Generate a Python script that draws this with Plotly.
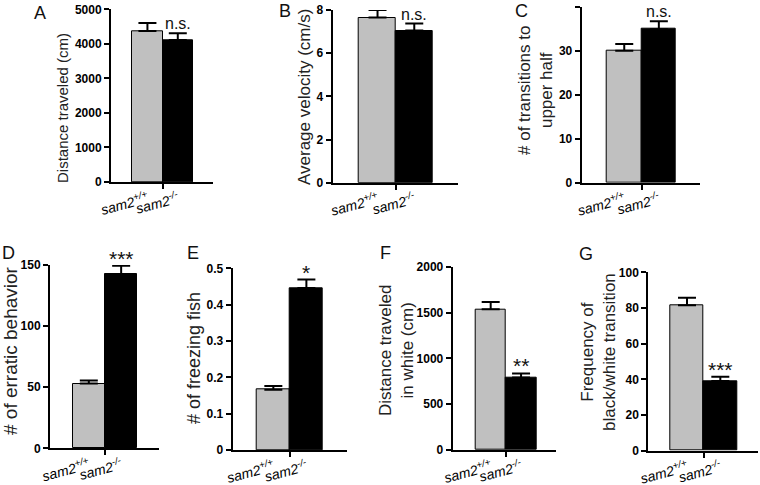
import plotly.graph_objects as go

groups = ["<i>sam2<sup>+/+</sup></i>", "<i>sam2<sup>-/-</sup></i>"]
bar_colors = ["#c0c0c0", "#000000"]

a_means = [4370, 4110]; a_errs = [230, 195]
b_means = [7.65, 7.05]; b_errs = [0.35, 0.32]
c_means = [30.0, 34.9]; c_errs = [1.5, 1.8]
d_means = [53.0, 142.3]; d_errs = [2.5, 7.0]
e_means = [0.166, 0.446]; e_errs = [0.010, 0.023]
f_means = [1536, 792]; f_errs = [80, 44]
g_means = [81.5, 39.0]; g_errs = [4.2, 2.4]

letters = ["A", "B", "C", "D", "E", "F", "G"]
y_titles = ["Distance traveled (cm)", "Average velocity (cm/s)",
            "# of transitions to<br>upper half", "# of erratic behavior",
            "# of freezing fish", "Distance traveled<br>in white (cm)",
            "Frequency of<br>black/white transition"]
y_max = [5000, 8, 40, 150, 0.5, 2000, 100]
y_dtick = [1000, 2, 10, 50, 0.1, 500, 20]
sig = ["n.s.", "n.s.", "n.s.", "***", "*", "**", "***"]
means = [a_means, b_means, c_means, d_means, e_means, f_means, g_means]
errs = [a_errs, b_errs, c_errs, d_errs, e_errs, f_errs, g_errs]

W, H = 760, 485
# pixel boxes: (x_left, x_right, y_top, y_bottom)
boxes = [(111, 213, 9.3, 182), (332.7, 458, 10, 182.7), (581.7, 700, 6.7, 182.7),
         (50, 159, 265, 448.3), (232.7, 346.7, 268.3, 450), (452.7, 556, 266.7, 450),
         (648.3, 758, 272.3, 450.7)]
x_ranges = [(-1.20, 2.16), (-1.22, 2.19), (-1.23, 2.19), (-1.20, 2.17),
            (-1.23, 2.22), (-1.25, 2.15), (-1.16, 2.13)]
title_pos = [(62, 108), (305, 97), (535, 91), (10, 351), (194, 358), (396, 350), (598, 352)]
title_size = [15, 17, 17, 19, 18, 17, 17]
letter_pos = [(40, 13), (285, 11), (521, 11), (8, 253), (193, 253), (385, 253), (586, 254)]


def px(x):
    return x / W


def py(y):
    return 1 - y / H


font_family = "Arial, Liberation Sans, sans-serif"
fig = go.Figure()
layout = dict(template="none", width=W, height=H,
              margin=dict(l=0, r=0, t=0, b=0, pad=0, autoexpand=False),
              paper_bgcolor="white", plot_bgcolor="white", showlegend=False,
              bargap=0, font=dict(family=font_family, color="#000"))
annotations = []

for i in range(7):
    n = "" if i == 0 else str(i + 1)
    xl, xr, yt, yb = boxes[i]
    fig.add_trace(go.Bar(
        x=[0, 1], y=means[i], width=1,
        marker=dict(color=bar_colors, line=dict(color="#000", width=1)),
        error_y=dict(type="data", symmetric=False, array=errs[i],
                     arrayminus=[0, 0], color="#000", thickness=2, width=9),
        xaxis="x" + n, yaxis="y" + n))
    layout["xaxis" + n] = dict(
        domain=[px(xl), px(xr)], range=list(x_ranges[i]), anchor="y" + n,
        automargin=False,
        tickmode="array", tickvals=[0, 1], ticktext=groups, tickangle=-15,
        ticks="", ticklabelstandoff=2,
        tickfont=dict(size=14, family=font_family, color="#000"),
        showline=True, linecolor="#000", linewidth=2, showgrid=False,
        zeroline=False, fixedrange=True,
        minor=dict(ticks="outside", tick0=0.5, dtick=100, ticklen=5,
                   tickwidth=2, tickcolor="#000", showgrid=False))
    layout["yaxis" + n] = dict(
        domain=[py(yb), py(yt)], range=[0, y_max[i]], anchor="x" + n,
        automargin=False, fixedrange=True,
        tick0=0, dtick=y_dtick[i], ticks="outside", ticklen=5, tickwidth=2,
        tickcolor="#000", showline=True, linecolor="#000", linewidth=2,
        showgrid=False, zeroline=False, tickprefix="<b>", ticksuffix="</b>",
        tickfont=dict(size=12, family=font_family, color="#000", weight="bold"))
    tx, ty = title_pos[i]
    annotations.append(dict(text=y_titles[i], x=px(tx), y=py(ty),
                            xref="paper", yref="paper", textangle=-90,
                            showarrow=False, xanchor="center", yanchor="middle",
                            font=dict(size=title_size[i], color="#222",
                                      family=font_family)))
    lx, ly = letter_pos[i]
    annotations.append(dict(text=letters[i], x=px(lx), y=py(ly),
                            xref="paper", yref="paper", showarrow=False,
                            xanchor="center", yanchor="middle",
                            font=dict(size=18, color="#111", family=font_family)))
    is_star = sig[i].startswith("*")
    annotations.append(dict(text=sig[i], x=1, y=means[i][1] + errs[i][1],
                            xref="x" + n, yref="y" + n, showarrow=False,
                            xanchor="center", yanchor="bottom",
                            yshift=-6 if is_star else -1,
                            font=dict(size=21 if is_star else 16, color="#111",
                                      family=font_family)))

layout["annotations"] = annotations
fig.update_layout(**layout)
fig.write_html("out.html", config={"displayModeBar": False},
               post_script="document.body.style.margin='0';"
                           "document.body.style.overflow='hidden';")
